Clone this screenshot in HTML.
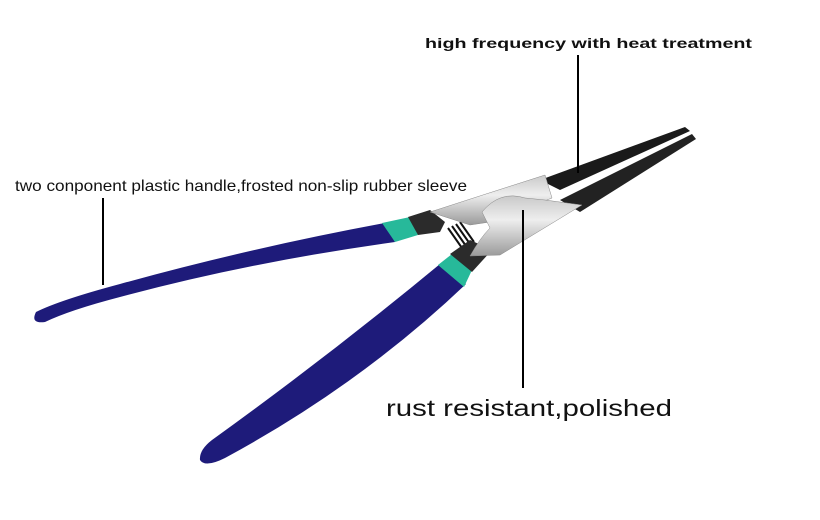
<!DOCTYPE html>
<html><head><style>
html,body{margin:0;padding:0;background:#fff;width:820px;height:520px;overflow:hidden}
</style></head><body>
<svg width="820" height="520" viewBox="0 0 820 520" xmlns="http://www.w3.org/2000/svg">
<defs>
<linearGradient id="sil" x1="0" y1="0" x2="0" y2="1">
<stop offset="0" stop-color="#c9c9c9"/><stop offset="0.4" stop-color="#eeeeee"/><stop offset="1" stop-color="#9a9a9a"/>
</linearGradient>
</defs>
<!-- jaws -->
<path d="M540 180 L685 127 L690 131 L560 190 Z" fill="#1a1a1a"/>
<path d="M560 200 L692 134 L696 139 L580 212 Z" fill="#222"/>
<!-- upper handle -->
<path d="M36 312 Q60 300 120 284 Q250 248 385 223 L395 242 Q250 262 120 297 Q70 310 45 322 Q30 324 36 312 Z" fill="#1e1b7a"/>
<path d="M382 223 L410 217 L418 235 L395 242 Z" fill="#27b99a"/>
<path d="M408 217 L430 210 L445 222 L440 232 L418 235 Z" fill="#2b2b2b"/>
<!-- spring -->
<path d="M448 228 L462 248 M452 226 L466 246 M456 224 L470 244 M460 222 L474 242" stroke="#111" stroke-width="2"/>
<!-- lower handle -->
<path d="M440 264 L466 284 Q360 385 225 458 Q205 468 200 460 Q199 450 212 440 Q330 355 440 264 Z" fill="#1e1b7a"/>
<path d="M438 265 L452 254 L472 270 L464 287 Z" fill="#27b99a"/>
<path d="M450 254 L470 240 L492 250 L472 272 Z" fill="#2b2b2b"/>
<!-- head -->
<path d="M430 212 L545 175 L552 198 L490 222 L470 225 Z" fill="url(#sil)" stroke="#888" stroke-width="0.5"/>
<path d="M482 212 Q500 190 525 198 L545 200 L582 205 L500 255 L470 256 Q480 238 490 228 Z" fill="url(#sil)" stroke="#888" stroke-width="0.5"/>
<!-- leader lines -->
<line x1="578" y1="55" x2="578" y2="173" stroke="#000" stroke-width="2"/>
<line x1="103" y1="198" x2="103" y2="285" stroke="#000" stroke-width="2"/>
<line x1="523" y1="210" x2="523" y2="388" stroke="#000" stroke-width="2"/>
<text x="425" y="48" font-family="Liberation Sans, sans-serif" font-size="14" font-weight="bold" fill="#111" textLength="327" lengthAdjust="spacingAndGlyphs">high frequency with heat treatment</text>
<text x="15" y="191" font-family="Liberation Sans, sans-serif" font-size="16" fill="#111" textLength="452" lengthAdjust="spacingAndGlyphs">two conponent plastic handle,frosted non-slip rubber sleeve</text>
<text x="386" y="416" font-family="Liberation Sans, sans-serif" font-size="23" fill="#111" textLength="286" lengthAdjust="spacingAndGlyphs">rust resistant,polished</text>
</svg>
</body></html>
